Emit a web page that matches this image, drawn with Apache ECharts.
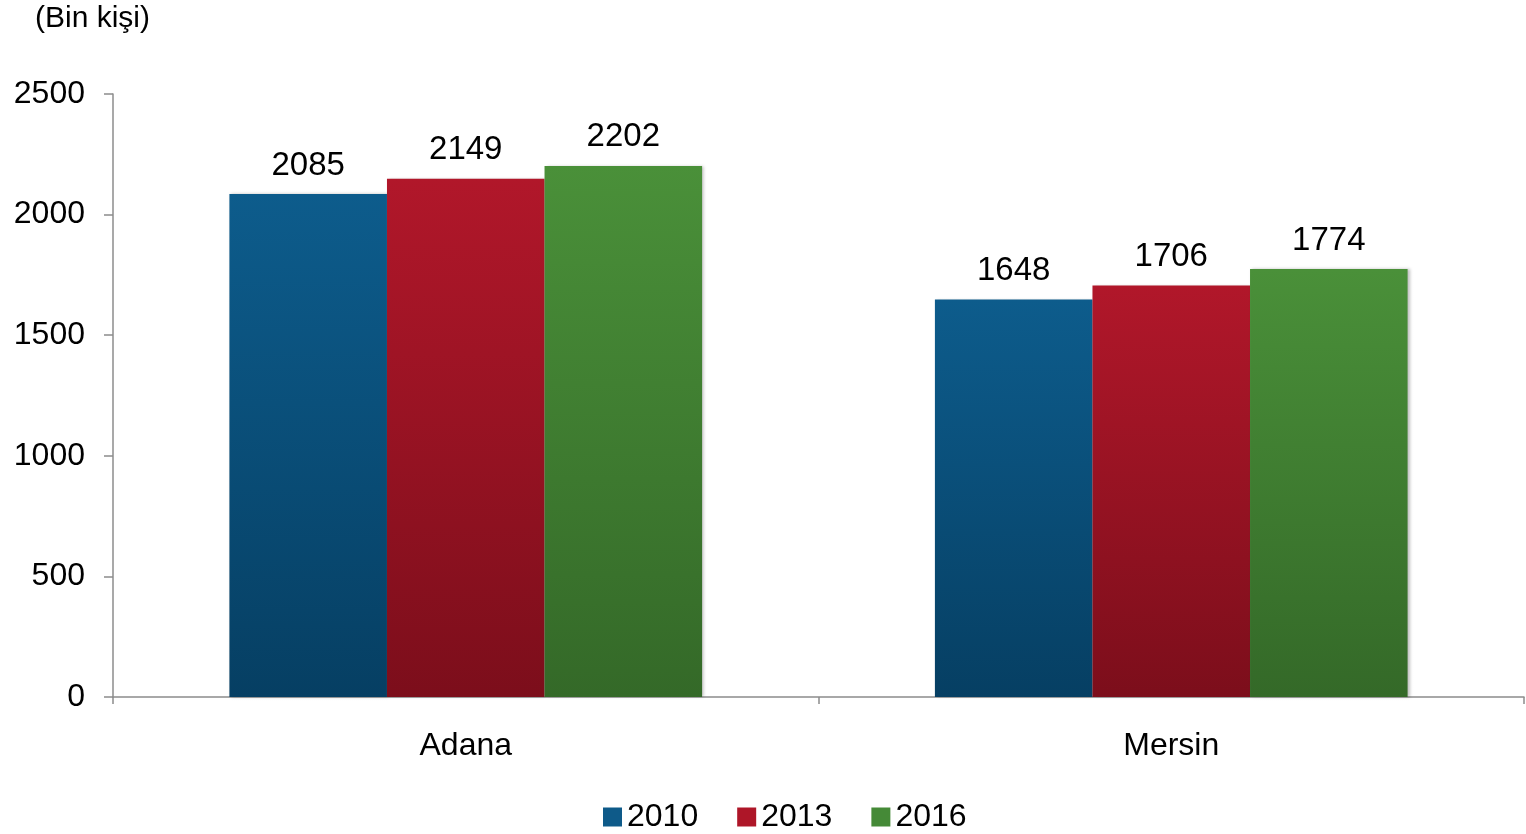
<!DOCTYPE html>
<html><head><meta charset="utf-8">
<script src="https://cdn.jsdelivr.net/npm/echarts@6/dist/echarts.min.js"></script>
<style>html,body{margin:0;padding:0;background:#fff}#c{width:1526px;height:834px}</style>
</head><body><div id="c"></div>
<script>
const categories = ['Adana', 'Mersin'];
const seriesNames = ['2010', '2013', '2016'];
const values2010 = [2085, 1648];
const values2013 = [2149, 1706];
const values2016 = [2202, 1774];
const yTicks = [0, 500, 1000, 1500, 2000, 2500];

const FONT = 'Liberation Sans, Arial, sans-serif';
const colors = [
  ['#0d5c8c', '#063f63'],
  ['#b1172a', '#7c0e1b'],
  ['#4a9039', '#346928']
];
const legendColors = ['#0e5a89', '#ae1628', '#458a37'];
const data = [values2010, values2013, values2016];

const chart = echarts.init(document.getElementById('c'));
chart.setOption({
  animation: false,
  backgroundColor: '#ffffff',
  title: {
    text: '(Bin kişi)', left: 30, top: -1,
    textStyle: { fontFamily: FONT, fontSize: 30, fontWeight: 'normal', color: '#000' }
  },
  legend: {
    bottom: -4, left: 598,
    itemWidth: 19, itemHeight: 19, itemGap: 39,
    textStyle: { fontFamily: FONT, fontSize: 32, color: '#000' },
    data: seriesNames.map((n, i) => ({ name: n, icon: 'rect', itemStyle: { color: legendColors[i] } }))
  },
  grid: { left: 113, right: 2, top: 94, bottom: 137 },
  xAxis: {
    type: 'category', data: categories,
    axisLine: { lineStyle: { color: '#8c8c8c', width: 1.5 } },
    axisTick: { show: true, length: 7, lineStyle: { color: '#8c8c8c', width: 1.5 } },
    axisLabel: { fontFamily: FONT, fontSize: 32, color: '#000', margin: 33 }
  },
  yAxis: {
    type: 'value', min: yTicks[0], max: yTicks[yTicks.length - 1], interval: 500,
    axisLine: { show: true, lineStyle: { color: '#8c8c8c', width: 1.5 } },
    axisTick: { show: true, length: 9, lineStyle: { color: '#8c8c8c', width: 1.5 } },
    splitLine: { show: false },
    axisLabel: { fontFamily: FONT, fontSize: 32, color: '#000', margin: 28, formatter: v => String(v) }
  },
  series: seriesNames.map((n, i) => ({
    name: n, type: 'bar', data: data[i],
    barGap: '0%', barCategoryGap: '33%',
    itemStyle: {
      color: new echarts.graphic.LinearGradient(0, 0, 0, 1, [
        { offset: 0, color: colors[i][0] }, { offset: 1, color: colors[i][1] }
      ]),
      shadowColor: 'rgba(0,0,0,0.25)', shadowBlur: 3, shadowOffsetX: 2, shadowOffsetY: 0
    },
    label: {
      show: true, position: 'top', distance: 12,
      fontFamily: FONT, fontSize: 33, color: '#000'
    }
  }))
});
</script></body></html>
